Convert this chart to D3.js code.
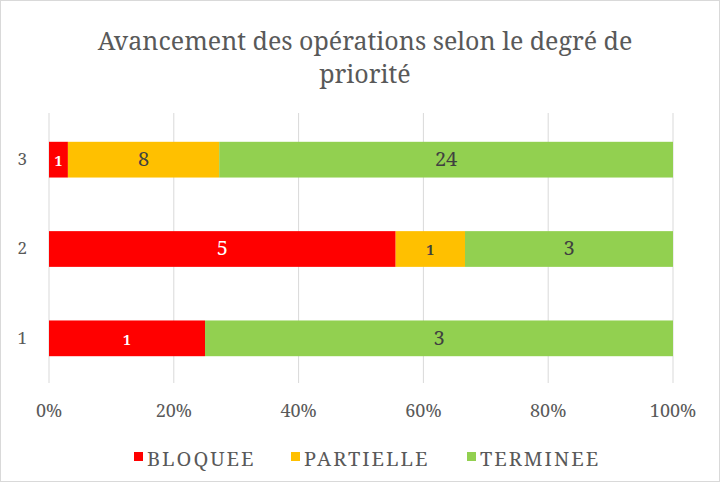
<!DOCTYPE html>
<html>
<head>
<meta charset="utf-8">
<script src="https://cdn.jsdelivr.net/npm/d3@7"></script>
<style>
  body { margin: 0; background: #fff; }
</style>
</head>
<body>
<div id="chart"></div>
<script>
// chart data
const categories = ["1", "2", "3"];
const seriesNames = ["BLOQUEE", "PARTIELLE", "TERMINEE"];
const bloquee = [1, 5, 1];
const partielle = [0, 1, 8];
const terminee = [3, 3, 24];
const xTicks = [0, 0.2, 0.4, 0.6, 0.8, 1];
const colors = ["#ff0000", "#ffc000", "#92d050"];
const labelColors = ["#ffffff", "#404040", "#404040"];

const FONT = "Noto Serif";
const width = 722, height = 485;
const margin = {top: 115, right: 49, bottom: 102, left: 49};

let svg = d3.select("#chart")
    .append("svg")
    .attr("width", width)
    .attr("height", height)
    .attr("font-family", FONT);

svg.append("rect")
    .attr("x", 0.5).attr("y", 0.5)
    .attr("width", width - 3).attr("height", height - 4)
    .attr("fill", "#fff")
    .attr("stroke", "#d9d9d9");

let rows = categories.map(function(c, i) {
    return {cat: c, BLOQUEE: bloquee[i], PARTIELLE: partielle[i], TERMINEE: terminee[i]};
});
rows.forEach(function(r) {
    let total = r.BLOQUEE + r.PARTIELLE + r.TERMINEE;
    seriesNames.forEach(function(s) { r["p_" + s] = r[s] / total; });
});

let stack = d3.stack().keys(seriesNames.map(s => "p_" + s));
let layers = stack(rows);

let x = d3.scaleLinear()
    .domain([0, 1])
    .range([margin.left, width - margin.right]);

let y = d3.scaleBand()
    .domain(categories.slice().reverse())
    .range([margin.top, height - margin.bottom])
    .paddingInner(0.6)
    .paddingOuter(0.3);

// gridlines
svg.append("g")
    .selectAll("line")
    .data(xTicks)
    .enter()
    .append("line")
    .attr("x1", d => x(d)).attr("x2", d => x(d))
    .attr("y1", margin.top - 2).attr("y2", height - margin.bottom)
    .attr("stroke", "#d9d9d9")
    .attr("stroke-width", 1);

// bars
layers.forEach(function(layer, li) {
    let g = svg.append("g");
    g.selectAll("rect")
        .data(layer.filter(d => d[1] - d[0] > 0))
        .enter()
        .append("rect")
        .attr("x", d => x(d[0]))
        .attr("y", d => y(d.data.cat))
        .attr("width", d => x(d[1]) - x(d[0]))
        .attr("height", y.bandwidth())
        .attr("fill", colors[li]);

    g.selectAll("text")
        .data(layer.filter(d => d[1] - d[0] > 0))
        .enter()
        .append("text")
        .attr("x", d => (x(d[0]) + x(d[1])) / 2)
        .attr("y", d => y(d.data.cat) + y.bandwidth() / 2)
        .attr("dy", d => d.data[seriesNames[li]] == 1 ? "0.45em" : "0.32em")
        .attr("text-anchor", "middle")
        .attr("font-family", FONT)
        .attr("font-size", d => d.data[seriesNames[li]] == 1 ? 14 : 20)
        .attr("font-weight", d => d.data[seriesNames[li]] == 1 ? "bold" : "normal")
        .attr("fill", labelColors[li])
        .text(d => d.data[seriesNames[li]]);
});

// x axis labels
svg.append("g")
    .selectAll("text")
    .data(xTicks)
    .enter()
    .append("text")
    .attr("x", d => x(d))
    .attr("y", height - margin.bottom + 34)
    .attr("text-anchor", "middle")
    .attr("font-family", FONT)
    .attr("font-size", 18)
    .attr("fill", "#595959")
    .text(d => d3.format(".0%")(d));

// y axis labels
let yAxis = svg.append("g")
    .attr("transform", `translate(${margin.left}, 0)`)
    .call(d3.axisLeft(y).tickSize(0).tickPadding(22));
yAxis.select(".domain").remove();
yAxis.selectAll("text")
    .attr("font-size", 17)
    .attr("font-family", FONT)
    .attr("fill", "#595959");

// title
let title = svg.append("text")
    .attr("text-anchor", "middle")
    .attr("font-family", FONT)
    .attr("font-size", 25)
    .attr("fill", "#595959");
title.append("tspan").attr("x", 365).attr("y", 50).text("Avancement des opérations selon le degré de");
title.append("tspan").attr("x", 365).attr("y", 83).text("priorité");

// legend
let legendX = [134, 291, 467];
let legend = svg.append("g");
seriesNames.forEach(function(s, i) {
    legend.append("rect")
        .attr("x", legendX[i]).attr("y", 452)
        .attr("width", 9).attr("height", 9)
        .attr("fill", colors[i]);
    legend.append("text")
        .attr("x", legendX[i] + 13).attr("y", 466)
        .attr("font-family", FONT)
        .attr("font-size", 20)
        .attr("letter-spacing", 2)
        .attr("fill", "#595959")
        .text(s);
});
</script>
</body>
</html>
